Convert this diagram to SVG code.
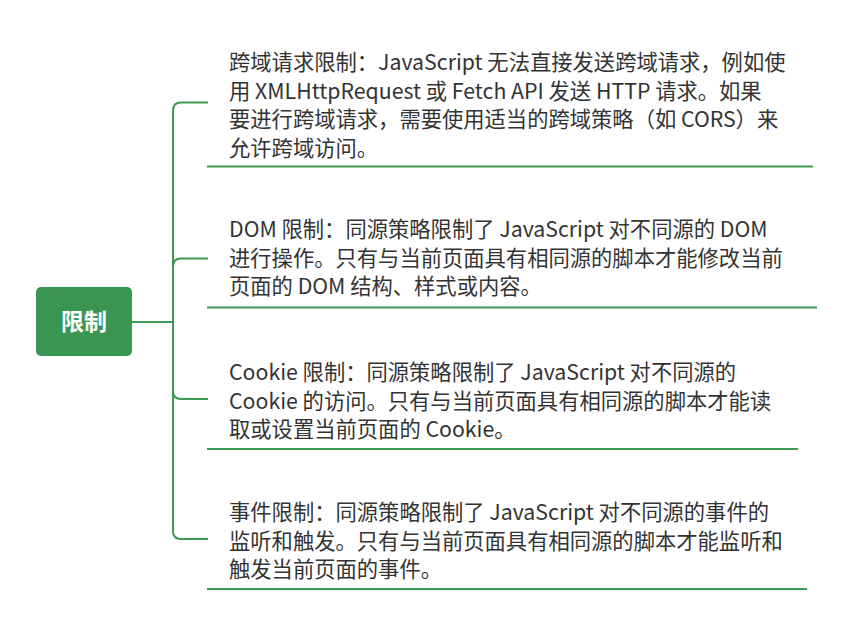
<svg xmlns="http://www.w3.org/2000/svg" width="850" height="634" viewBox="0 0 850 634">
<style>
.t{font-family:"Noto Sans CJK SC","Noto Sans",sans-serif;font-size:21.3px;fill:#333}
.ln{stroke:#3d9a56;stroke-width:2;fill:none}
.root{font-family:"Noto Sans CJK SC",sans-serif;font-size:23px;font-weight:bold;fill:#fff}
</style>
<rect width="850" height="634" fill="#fff"/>
<g id="connectors" class="ln">
<path d="M132 322H173"/>
<path d="M208 102.5H181Q173 102.5 173 110.5V531Q173 539 181 539H208"/>
<path d="M208 258.5H181Q173 258.5 173 266.5"/>
<path d="M208 399H181Q173 399 173 391"/>
</g>
<g id="root">
<rect x="36" y="287" width="96" height="69" rx="5" fill="#3a9550"/>
<text class="root" x="84" y="330" text-anchor="middle">限制</text>
</g>
<g id="n1">
<text class="t"><tspan x="229" y="70">跨域请求限制：JavaScript 无法直接发送跨域请求，例如使</tspan><tspan x="229" y="98.5">用 XMLHttpRequest 或 Fetch API 发送 HTTP 请求。如果</tspan><tspan x="229" y="127">要进行跨域请求，需要使用适当的跨域策略（如 CORS）来</tspan><tspan x="229" y="155.5">允许跨域访问。</tspan></text>
<path class="ln" d="M207 166.5H813"/>
</g>
<g id="n2">
<text class="t"><tspan x="229" y="237">DOM 限制：同源策略限制了 JavaScript 对不同源的 DOM</tspan><tspan x="229" y="265.5">进行操作。只有与当前页面具有相同源的脚本才能修改当前</tspan><tspan x="229" y="294">页面的 DOM 结构、样式或内容。</tspan></text>
<path class="ln" d="M207 307.5H817"/>
</g>
<g id="n3">
<text class="t"><tspan x="229" y="380">Cookie 限制：同源策略限制了 JavaScript 对不同源的</tspan><tspan x="229" y="408.5">Cookie 的访问。只有与当前页面具有相同源的脚本才能读</tspan><tspan x="229" y="437">取或设置当前页面的 Cookie。</tspan></text>
<path class="ln" d="M207 449H798"/>
</g>
<g id="n4">
<text class="t"><tspan x="229" y="520">事件限制：同源策略限制了 JavaScript 对不同源的事件的</tspan><tspan x="229" y="548.5">监听和触发。只有与当前页面具有相同源的脚本才能监听和</tspan><tspan x="229" y="577">触发当前页面的事件。</tspan></text>
<path class="ln" d="M207 589H807"/>
</g>
</svg>
